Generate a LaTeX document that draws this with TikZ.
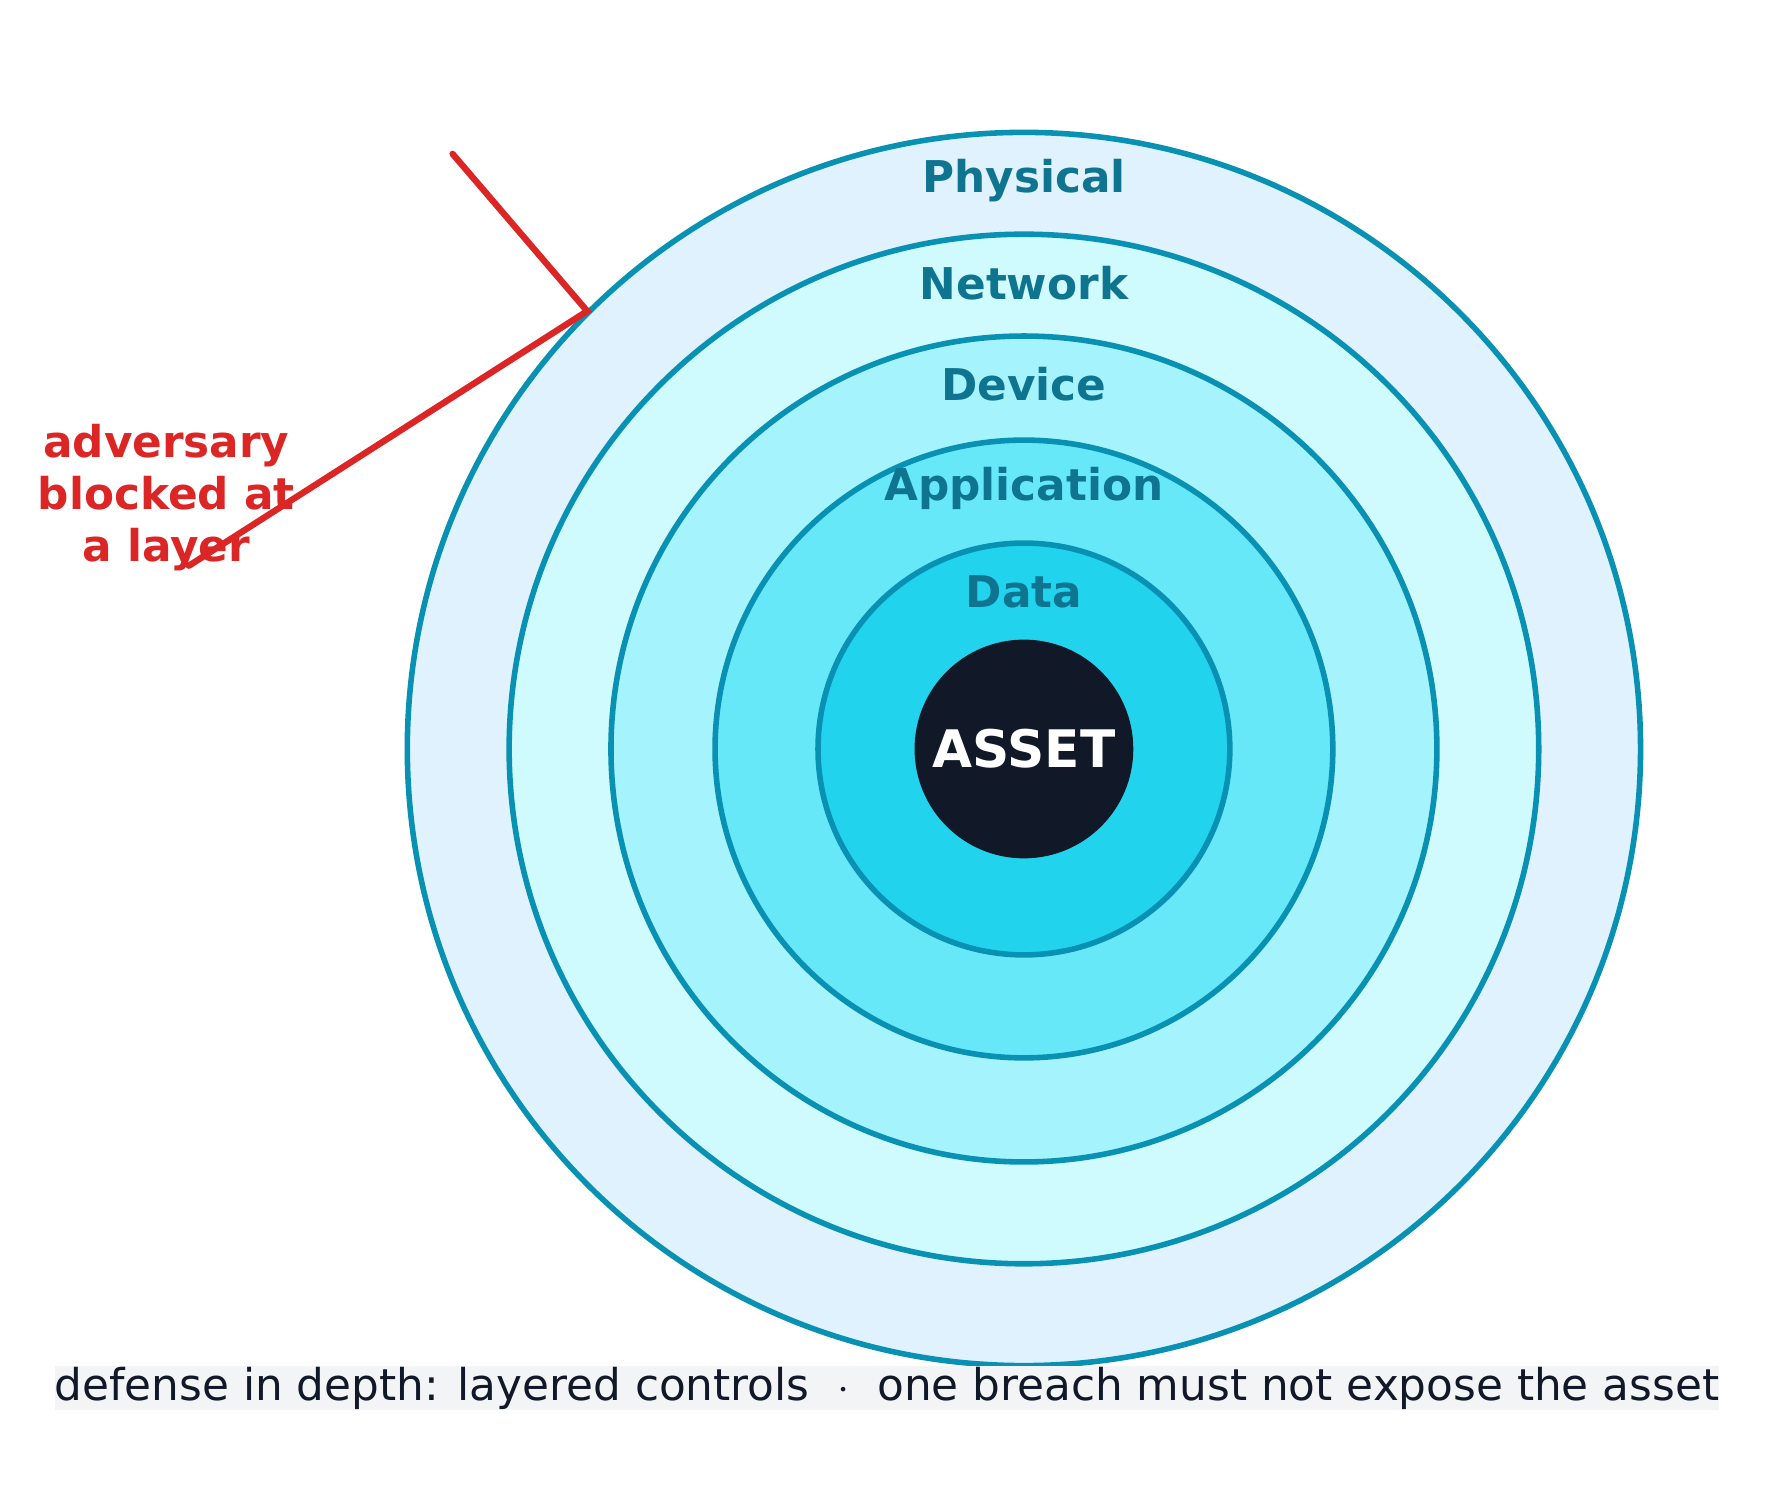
\documentclass[tikz,border=0pt]{standalone}
\usepackage{fontspec}
\setmainfont{DejaVu Sans}
\definecolor{ring}{HTML}{0891B2}
\definecolor{labelc}{HTML}{0E7490}
\definecolor{advred}{HTML}{DC2626}
\definecolor{core}{HTML}{111827}
\definecolor{capbg}{HTML}{F3F4F6}
\definecolor{fA}{HTML}{E0F2FE}
\definecolor{fB}{HTML}{CFFAFE}
\definecolor{fC}{HTML}{A5F3FC}
\definecolor{fD}{HTML}{67E8F9}
\definecolor{fE}{HTML}{22D3EE}
\begin{document}
\begin{tikzpicture}[x=0.01cm,y=-0.01cm,
  layer/.style={draw=ring, line width=1.4pt},
  layerlabel/.style={text=labelc, font=\bfseries\fontsize{11}{13}\selectfont},
  attack/.style={draw=advred, line width=1.6pt, line cap=round}]
  \useasboundingbox (0,0) rectangle (1560,1319);
  % rings, outside in
  \foreach \r/\fillc/\name/\txt in {545/fA/phys/Physical, 455/fB/net/Network,
      365/fC/dev/Device, 273/fD/app/Application, 182/fE/data/Data}{
    \draw [layer, fill=\fillc] (905,662) circle [radius=\r];
    \node [layerlabel] (\name) at (905,662-\r+43) {\txt};
  }
  \node [circle, fill=core, minimum size=1.9cm, text=white,
    font=\bfseries\fontsize{13}{15}\selectfont] (asset) at (905,662) {ASSET};
  % adversary path
  \coordinate (start) at (400,136);
  \coordinate (hit) at (519,275);
  \coordinate (back) at (167,500);
  \draw [attack] (start) -- (hit) -- (back);
  \node [align=center, text=advred, font=\bfseries\fontsize{11}{13}\selectfont]
    (adv) at (147,440) {adversary\\blocked at\\a layer};
  % caption
  \node [fill=capbg, text=core, minimum width=11.9cm, minimum height=0.39cm,
    inner sep=0pt, font=\fontsize{11}{13}\selectfont] (caption) at (784,1227)
    {defense in depth: layered controls \ $\cdot$\ \ one breach must not expose the asset};
\end{tikzpicture}
\end{document}
